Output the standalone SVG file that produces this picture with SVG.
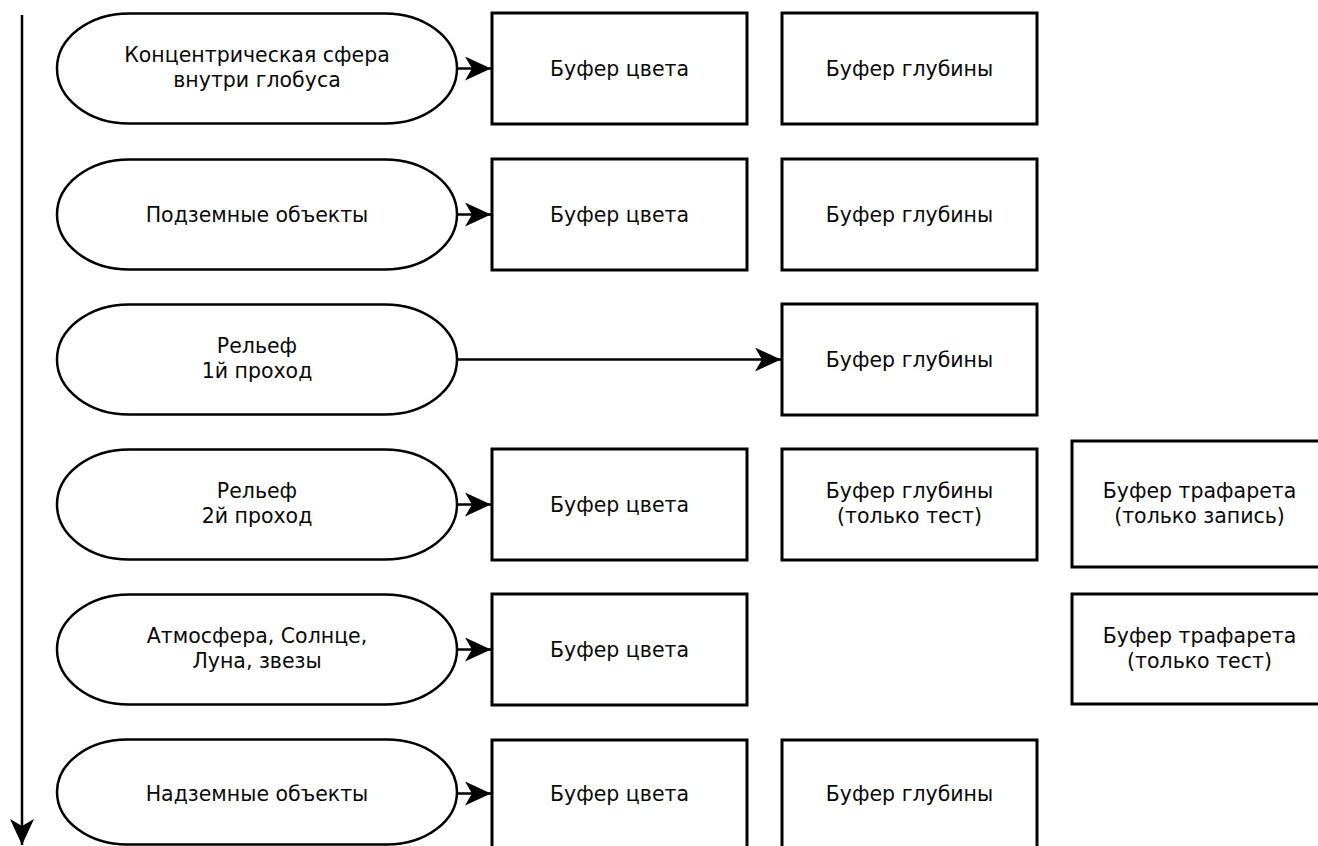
<svg xmlns="http://www.w3.org/2000/svg" width="1318" height="846" viewBox="0 0 1318 846">
<style>
.st{fill:#fff;stroke:#000;stroke-width:2.5}
.bx{fill:#fff;stroke:#000;stroke-width:3}
.tx{font-family:"DejaVu Sans","Liberation Sans",sans-serif;font-size:20.5px;fill:#0a0a0a;text-anchor:middle}
.cn{fill:none;stroke:#000;stroke-width:2.5}
</style>
<defs>
<marker id="ah" viewBox="0 0 26 24" refX="26" refY="12" markerWidth="26" markerHeight="24" markerUnits="userSpaceOnUse" orient="auto">
<path d="M0,0 L26,12 L0,24 L7,12 Z" fill="#000"/>
</marker>
</defs>
<rect width="1318" height="846" fill="#fff"/>

<g id="connectors">
<line class="cn" x1="22" y1="15" x2="22" y2="845" marker-end="url(#ah)"/>
<line class="cn" x1="457" y1="68.5" x2="491" y2="68.5" marker-end="url(#ah)"/>
<line class="cn" x1="457" y1="214.5" x2="491" y2="214.5" marker-end="url(#ah)"/>
<line class="cn" x1="458" y1="359.5" x2="781" y2="359.5" marker-end="url(#ah)"/>
<line class="cn" x1="457" y1="504.5" x2="491" y2="504.5" marker-end="url(#ah)"/>
<line class="cn" x1="457" y1="649.5" x2="491" y2="649.5" marker-end="url(#ah)"/>
<line class="cn" x1="457" y1="793.5" x2="491" y2="793.5" marker-end="url(#ah)"/>
</g>

<g id="n1">
<rect class="st" x="57" y="13.5" width="400" height="110" rx="72" ry="55"/>
<text class="tx" x="257" y="62">Концентрическая сфера</text>
<text class="tx" x="257" y="87">внутри глобуса</text>
</g>
<g id="n1c">
<rect class="bx" x="492" y="13" width="255" height="111"/>
<text class="tx" x="619.5" y="75.5">Буфер цвета</text>
</g>
<g id="n1d">
<rect class="bx" x="782" y="13" width="255" height="111"/>
<text class="tx" x="909.5" y="75.5">Буфер глубины</text>
</g>

<g id="n2">
<rect class="st" x="57" y="159.5" width="400" height="110" rx="72" ry="55"/>
<text class="tx" x="257" y="221.5">Подземные объекты</text>
</g>
<g id="n2c">
<rect class="bx" x="492" y="159" width="255" height="111"/>
<text class="tx" x="619.5" y="221.5">Буфер цвета</text>
</g>
<g id="n2d">
<rect class="bx" x="782" y="159" width="255" height="111"/>
<text class="tx" x="909.5" y="221.5">Буфер глубины</text>
</g>

<g id="n3">
<rect class="st" x="57" y="304.5" width="400" height="110" rx="72" ry="55"/>
<text class="tx" x="257" y="353">Рельеф</text>
<text class="tx" x="257" y="378">1й проход</text>
</g>
<g id="n3d">
<rect class="bx" x="782" y="304" width="255" height="111"/>
<text class="tx" x="909.5" y="366.5">Буфер глубины</text>
</g>

<g id="n4">
<rect class="st" x="57" y="449.5" width="400" height="110" rx="72" ry="55"/>
<text class="tx" x="257" y="498">Рельеф</text>
<text class="tx" x="257" y="523">2й проход</text>
</g>
<g id="n4c">
<rect class="bx" x="492" y="449" width="255" height="111"/>
<text class="tx" x="619.5" y="511.5">Буфер цвета</text>
</g>
<g id="n4d">
<rect class="bx" x="782" y="449" width="255" height="111"/>
<text class="tx" x="909.5" y="498">Буфер глубины</text>
<text class="tx" x="909.5" y="523">(только тест)</text>
</g>
<g id="n4s">
<rect class="bx" x="1072" y="441" width="255" height="126"/>
<text class="tx" x="1199.5" y="498">Буфер трафарета</text>
<text class="tx" x="1199.5" y="523">(только запись)</text>
</g>

<g id="n5">
<rect class="st" x="57" y="594.5" width="400" height="110" rx="72" ry="55"/>
<text class="tx" x="257" y="643">Атмосфера, Солнце,</text>
<text class="tx" x="257" y="668">Луна, звезы</text>
</g>
<g id="n5c">
<rect class="bx" x="492" y="594" width="255" height="111"/>
<text class="tx" x="619.5" y="656.5">Буфер цвета</text>
</g>
<g id="n5s">
<rect class="bx" x="1072" y="594" width="255" height="110"/>
<text class="tx" x="1199.5" y="643">Буфер трафарета</text>
<text class="tx" x="1199.5" y="668">(только тест)</text>
</g>

<g id="n6">
<rect class="st" x="57" y="739.5" width="400" height="105" rx="70" ry="52.5"/>
<text class="tx" x="257" y="800.5">Надземные объекты</text>
</g>
<g id="n6c">
<rect class="bx" x="492" y="740" width="255" height="111"/>
<text class="tx" x="619.5" y="800.5">Буфер цвета</text>
</g>
<g id="n6d">
<rect class="bx" x="782" y="740" width="255" height="111"/>
<text class="tx" x="909.5" y="800.5">Буфер глубины</text>
</g>
</svg>
